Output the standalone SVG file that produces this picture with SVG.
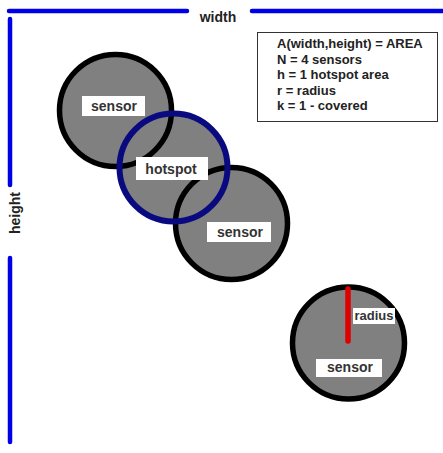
<svg xmlns="http://www.w3.org/2000/svg" width="443" height="453" viewBox="0 0 443 453">
<style>
  .axis { stroke: #0000e6; stroke-width: 4.5; stroke-linecap: round; fill: none; }
  .axislabel { font-family: "Liberation Sans", Arial, sans-serif; font-weight: bold; font-size: 14px; fill: #222; }
  .disc { fill: #808080; }
  .sensor { fill: #808080; stroke: #000; stroke-width: 5.5; }
  .ring { fill: none; stroke: #0a0a80; stroke-width: 6; }
  .tag { fill: #fff; }
  .lbl { font-family: "Liberation Sans", Arial, sans-serif; font-weight: bold; font-size: 14px; fill: #333; text-anchor: middle; }
  .legend { font-family: "Liberation Sans", Arial, sans-serif; font-weight: bold; font-size: 13px; fill: #222; }
</style>
<rect width="443" height="453" fill="#fff"/>
<g id="axes">
  <line class="axis" x1="9" y1="11" x2="187" y2="11"/>
  <line class="axis" x1="252" y1="11" x2="445" y2="11"/>
  <line class="axis" x1="10" y1="19" x2="10" y2="185"/>
  <line class="axis" x1="10" y1="258" x2="10" y2="442"/>
  <text class="axislabel" x="218" y="22" text-anchor="middle">width</text>
  <text class="axislabel" transform="translate(20,213) rotate(-90)" text-anchor="middle">height</text>
</g>
<g id="legend">
  <rect x="257.5" y="32.5" width="180" height="89" fill="#fff" stroke="#333" stroke-width="1"/>
  <text class="legend" x="277" y="48">A(width,height) = AREA</text>
  <text class="legend" x="277" y="63.5">N = 4 sensors</text>
  <text class="legend" x="277" y="79">h = 1 hotspot area</text>
  <text class="legend" x="277" y="94.5">r = radius</text>
  <text class="legend" x="277" y="110">k = 1 - covered</text>
</g>
<g id="hotspot-area">
  <circle class="disc" cx="173.5" cy="167.5" r="54"/>
</g>
<g id="sensor1">
  <circle class="sensor" cx="115.5" cy="110.5" r="56"/>
  <rect class="tag" x="82" y="96" width="63" height="20"/>
  <text class="lbl" x="114" y="111">sensor</text>
</g>
<g id="sensor2">
  <circle class="sensor" cx="231.5" cy="223.5" r="56"/>
  <rect class="tag" x="207" y="222" width="64" height="20"/>
  <text class="lbl" x="240" y="237">sensor</text>
</g>
<g id="hotspot">
  <circle class="ring" cx="173.5" cy="167.5" r="54"/>
  <rect class="tag" x="136" y="157" width="72" height="23"/>
  <text class="lbl" x="171" y="174">hotspot</text>
</g>
<g id="sensor3">
  <circle class="sensor" cx="348.5" cy="343" r="56"/>
  <line x1="348" y1="289" x2="348" y2="341" stroke="#e00000" stroke-width="5.5" stroke-linecap="round"/>
  <rect class="tag" x="353" y="308" width="42" height="16"/>
  <text class="lbl" x="374" y="320" style="font-size:13px">radius</text>
  <rect class="tag" x="316" y="359" width="66" height="18"/>
  <text class="lbl" x="350" y="372">sensor</text>
</g>
</svg>
